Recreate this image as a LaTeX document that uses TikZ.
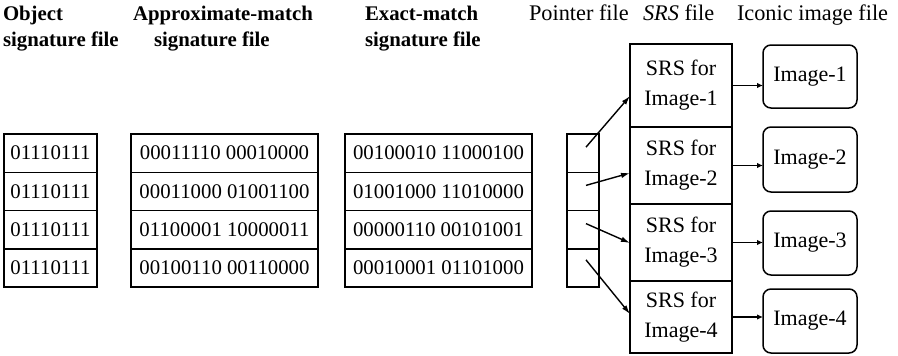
\documentclass[tikz,border=0pt]{standalone}
\usepackage{fontspec}
\setmainfont{Liberation Serif}
\usetikzlibrary{arrows.meta,calc}

\begin{document}
\begin{tikzpicture}[x=1pt,y=-1pt,
  every node/.style={inner sep=0pt, outer sep=0pt},
  hdrbold/.style={anchor=base west, font=\fontsize{20.8}{24}\selectfont\bfseries},
  hdr/.style={anchor=base west, font=\fontsize{22.3}{24}\selectfont},
  cell/.style={draw, line width=1.5pt, minimum height=38.25pt,
               font=\fontsize{20.8}{24}\selectfont},
  srsbox/.style={draw, line width=1.5pt, minimum width=102pt, align=center,
                 font=\fontsize{22}{30}\selectfont},
  imgbox/.style={draw, line width=1.5pt, rounded corners=8pt, minimum width=94pt,
                 font=\fontsize{22}{26}\selectfont},
  ptr/.style={line width=1.4pt, -{Latex[length=9pt,width=5.5pt]}},
  link/.style={line width=1.4pt, -{Latex[length=6pt,width=5.5pt]}}
]
\useasboundingbox (0,0) rectangle (898,356);

% column headings
\node[hdrbold] (h1a) at (3,20) {Object};
\node[hdrbold] (h1b) at (3,46) {signature file};
\node[hdrbold] (h2a) at (133,20) {Approximate-match};
\node[hdrbold] (h2b) at (154,46) {signature file};
\node[hdrbold] (h3a) at (365,20) {Exact-match};
\node[hdrbold] (h3b) at (365,46) {signature file};
\node[hdr] (h4) at (529,20) {Pointer file};
\node[hdr] (h5) at (643,20) {\textit{SRS} file};
\node[hdr] (h6) at (737,20) {Iconic image file};

% signature files and pointer file, one row per image
\foreach \i/\y/\apx/\ext in {
    1/153.125/00011110 00010000/00100010 11000100,
    2/191.375/00011000 01001100/01001000 11010000,
    3/229.625/01100001 10000011/00000110 00101001,
    4/267.875/00100110 00110000/00010001 01101000}{
  \node[cell, minimum width=93pt]  (o\i) at (50.5,\y)  {01110111};
  \node[cell, minimum width=187pt] (a\i) at (224.5,\y) {\apx};
  \node[cell, minimum width=187pt] (e\i) at (438.5,\y) {\ext};
  \node[cell, minimum width=32pt]  (p\i) at (583,\y)   {};
}

% SRS records
\node[srsbox, minimum height=83pt] (s1) at (681,85.5)  {SRS for\\Image-1};
\node[srsbox, minimum height=77pt] (s2) at (681,165.5) {SRS for\\Image-2};
\node[srsbox, minimum height=77pt] (s3) at (681,242.5) {SRS for\\Image-3};
\node[srsbox, minimum height=72pt] (s4) at (681,317)   {SRS for\\Image-4};

% iconic images
\node[imgbox, minimum height=63pt] (i1) at (810,76.5) {Image-1};
\node[imgbox, minimum height=65pt] (i2) at (810,159.5) {Image-2};
\node[imgbox, minimum height=64pt] (i3) at (810,243) {Image-3};
\node[imgbox, minimum height=64pt] (i4) at (810,321) {Image-4};

% pointers into the SRS file
\draw[ptr] ($(p1.center)+(3,-6)$) -- ($(s1.west)+(0,10.5)$);
\draw[ptr] ($(p2.center)+(3,-6)$) -- ($(s2.west)+(0,7.5)$);
\draw[ptr] ($(p3.center)+(3,-6)$) -- ($(s3.west)+(0,0.5)$);
\draw[ptr] ($(p4.center)+(3,-8)$) -- ($(s4.west)+(0,-3)$);

% SRS records to their images
\foreach \i in {1,2,3,4}
  \draw[link] (s\i.east) -- (s\i.east -| i\i.west);
\end{tikzpicture}
\end{document}
